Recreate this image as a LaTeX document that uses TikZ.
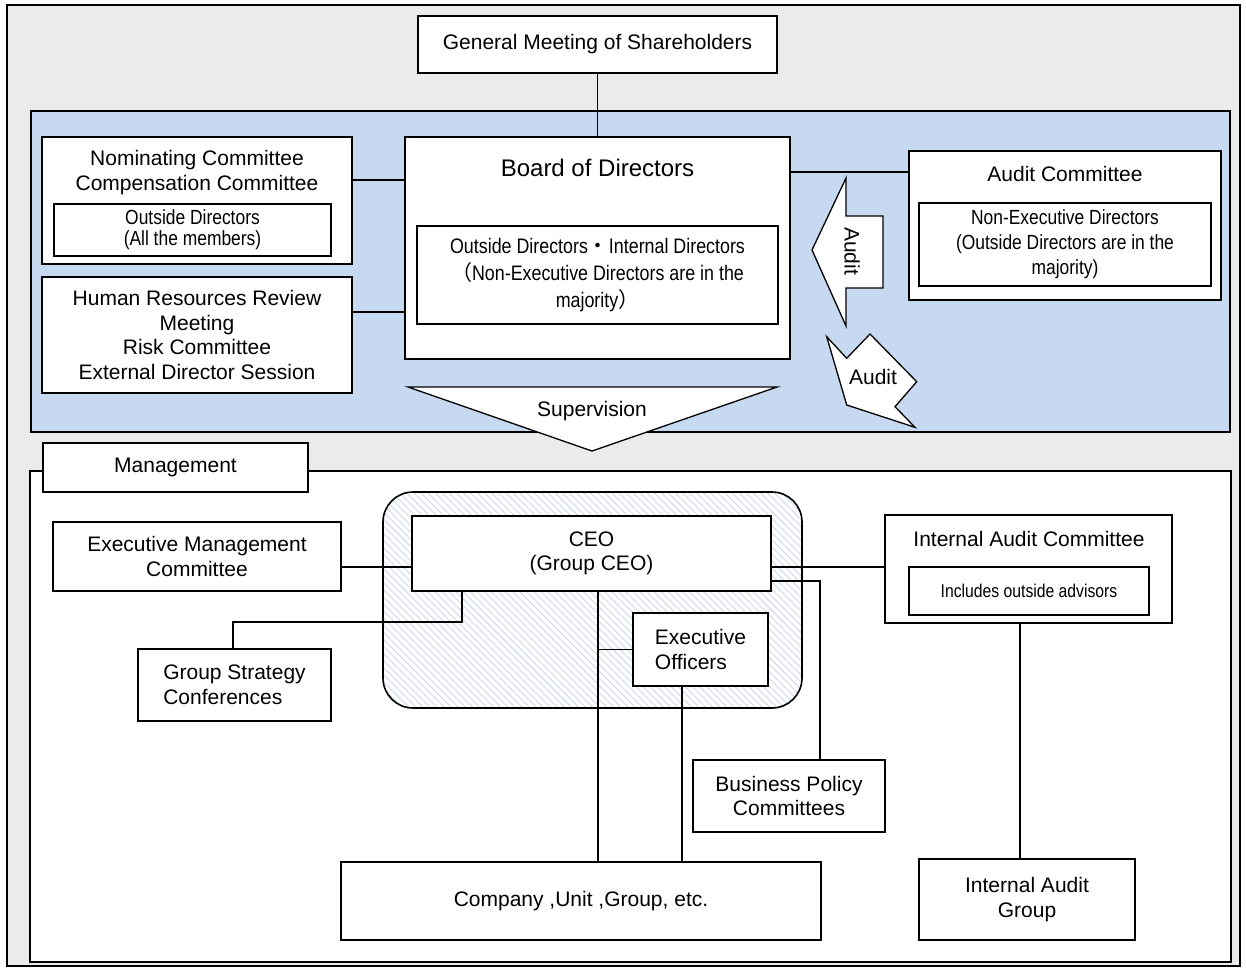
\documentclass[tikz,border=0pt]{standalone}
\usepackage{fontspec}
\setmainfont{Liberation Sans}
\newfontfamily\narrowfont{Liberation Sans}[FakeStretch=0.85]
\newfontfamily\cjkfont{Noto Sans CJK JP}
\usetikzlibrary{calc,patterns.meta}
\definecolor{bggray}{RGB}{235,235,235}
\definecolor{bandblue}{RGB}{198,217,240}
\definecolor{hatchc}{RGB}{205,216,236}
\newcommand\mainsz{\fontsize{21}{24.5}\selectfont}
\begin{document}
\begin{tikzpicture}[x=1pt,y=-1pt,line join=miter,
  box/.style={draw=black,line width=1.6pt,fill=white,inner sep=0pt,align=center,font=\mainsz},
  wh/.style 2 args={minimum width=#1pt,minimum height=#2pt},
  txt/.style={inner sep=0pt,align=center,font=\mainsz},
  conn/.style={draw=black,line width=1.5pt},
  arrowshape/.style={draw=black,line width=1.3pt,fill=white}]
\useasboundingbox (0,0) rectangle (1246,970);
% outer frame and board band
\draw[fill=bggray,line width=1.2pt] (7,5) rectangle (1240,966);
\draw[fill=bandblue,line width=1.6pt] (31,111) rectangle (1230,432);
% top nodes
\node[box,wh={359}{57}] (gm) at (597.5,44.5) {General Meeting of Shareholders};
\node[box,wh={385}{222}] (board) at (597.5,248) {};
\node[txt,font=\fontsize{24}{28}\selectfont] (boardt) at (597.5,168) {Board of Directors};
\node[box,wh={361}{98},font=\narrowfont\fontsize{21}{27}\selectfont] (boardin) at (597.5,275)
  {Outside Directors{\cjkfont ・}Internal Directors\\{\cjkfont （}Non-Executive Directors are in the\\majority{\cjkfont ）}};
\node[box,wh={310}{127}] (nom) at (197,200.5) {};
\node[txt] (nomt) at (197,172.5) {Nominating Committee\\Compensation Committee};
\node[box,wh={277}{52},font=\narrowfont\fontsize{20.5}{21}\selectfont] (nomin) at (192.5,230) {Outside Directors\\(All the members)};
\node[box,wh={310}{116}] (hr) at (197,335) {Human Resources Review\\Meeting\\Risk Committee\\External Director Session};
\node[box,wh={312}{149}] (ac) at (1065,225.5) {};
\node[txt] (act) at (1065,174) {Audit Committee};
\node[box,wh={292}{83},font=\narrowfont\fontsize{20.5}{25}\selectfont] (acin) at (1065,244.5)
  {Non-Executive Directors\\(Outside Directors are in the\\majority)};
% connectors, board level
\draw[conn] (gm.south) -- (board.north);
\coordinate (n1) at ([yshift=20.5pt]nom.east);
\draw[conn] (n1) -- (n1 -| board.west);
\coordinate (h1) at ([yshift=23pt]hr.east);
\draw[conn] (h1) -- (h1 -| board.west);
\coordinate (b1) at ([yshift=76pt]board.east);
\draw[conn] (b1) -- (b1 -| ac.west);
% audit arrows
\draw[arrowshape] (812,250) -- (846,178) -- (846,216) -- (883,216) -- (883,288) -- (846,288) -- (846,326) -- cycle;
\node[txt,rotate=-90] (audit1) at (852,251) {Audit};
\draw[arrowshape] (826.7,336.7) -- (846.7,358.3) -- (870,334) -- (916.7,381.7) -- (895,406.7) -- (915,427.3) -- (846.7,405) -- cycle;
\node[txt] (audit2) at (873,377) {Audit};
% supervision
\draw[arrowshape] (408,387) -- (777,387) -- (592,451) -- cycle;
\node[txt] (supv) at (592,411) {Supervision};
% management area
\draw[fill=white,line width=1.6pt] (30,471) rectangle (1231,962);
\node[box,wh={265}{49}] (mlabel) at (175.5,467.5) {Management};
\draw[line width=1.6pt,pattern={Lines[angle=-45,distance=5pt,line width=0.9pt]},pattern color=hatchc,rounded corners=30pt] (383,492) rectangle (802,708);
\node[box,wh={359}{75}] (ceo) at (591.5,553.5) {CEO\\(Group CEO)};
\node[box,wh={135}{73},align=left] (eo) at (700.5,649.5) {Executive\\Officers};
\node[box,wh={288}{69}] (emc) at (197,556.5) {Executive Management\\Committee};
\node[box,wh={193}{72},align=left] (gsc) at (234.5,685) {Group Strategy\\Conferences};
\node[box,wh={192}{72}] (bpc) at (789,796) {Business Policy\\Committees};
\node[box,wh={480}{78}] (comp) at (581,901) {Company ,Unit ,Group, etc.};
\node[box,wh={287}{108}] (iac) at (1028.5,569) {};
\node[txt] (iact) at (1029,539) {Internal Audit Committee};
\node[box,wh={240}{48},font=\narrowfont\fontsize{18.5}{21}\selectfont] (iacin) at (1029,591) {Includes outside advisors};
\node[box,wh={216}{81}] (iag) at (1027,899.5) {Internal Audit\\Group};
% management connectors
\coordinate (m1) at ([yshift=-10.5pt]emc.east);
\draw[conn] (m1) -- (m1 -| ceo.west);
\coordinate (c1) at ([xshift=51pt]ceo.south west);
\draw[conn] (c1) |- ($(gsc.north)+(-1.5,-26)$) -- ($(gsc.north)+(-1.5,0)$);
\coordinate (c2) at ([xshift=6.5pt]ceo.south);
\draw[conn] (c2) -- (c2 |- comp.north);
\draw[conn] (c2 |- eo.west) -- (eo.west);
\coordinate (e1) at ([xshift=-18.5pt]eo.south);
\draw[conn] (e1) -- (e1 |- comp.north);
\coordinate (c3) at ([yshift=-13.5pt]ceo.east);
\draw[conn] (c3) -- (c3 -| iac.west);
\coordinate (c4) at ([yshift=-27.5pt]ceo.east);
\coordinate (p1) at ([xshift=31pt]bpc.north);
\draw[conn] (c4) -| (p1);
\coordinate (i1) at ([xshift=-8.5pt]iac.south);
\draw[conn] (i1) -- (i1 |- iag.north);
\end{tikzpicture}
\end{document}
